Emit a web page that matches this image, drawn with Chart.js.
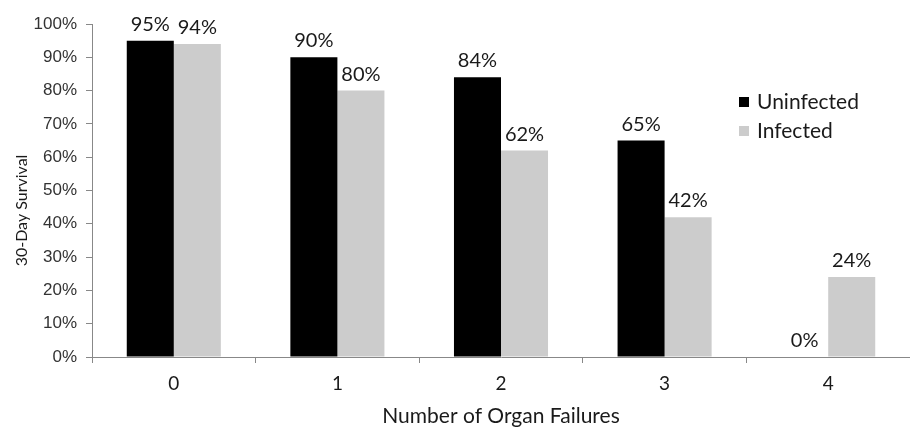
<!DOCTYPE html>
<html>
<head>
<meta charset="utf-8">
<script src="https://cdn.jsdelivr.net/npm/chart.js@4"></script>
<style>
  body { margin: 0; background: #fff; }
  canvas { display: block; }
</style>
</head>
<body>
<canvas id="survivalChart" width="910" height="429"></canvas>
<script>
// chart values
const organFailures = ['0', '1', '2', '3', '4'];
const uninfected = [95, 90, 84, 65, 0];
const infected = [94, 80, 62, 42, 24];
const seriesNames = ['Uninfected', 'Infected'];
const yTicks = [0, 10, 20, 30, 40, 50, 60, 70, 80, 90, 100];
const yTitle = '30-Day Survival';
const xTitle = 'Number of Organ Failures';

const labelFont = 'Lato, "Open Sans", sans-serif';

// draws the percent above each bar
const valueLabels = {
    id: 'valueLabels',
    afterDatasetsDraw(chart) {
        const ctx = chart.ctx;
        ctx.save();
        ctx.font = '20px ' + labelFont;
        ctx.fillStyle = '#1a1a1a';
        ctx.textAlign = 'center';
        ctx.textBaseline = 'alphabetic';
        chart.data.datasets.forEach((ds, i) => {
            const meta = chart.getDatasetMeta(i);
            meta.data.forEach((bar, j) => {
                ctx.fillText(ds.data[j] + '%', bar.x, bar.y - 10);
            });
        });
        ctx.restore();
    }
};

// legend sits inside the plot, right side; y title sits a bit below the middle
const extras = {
    id: 'extras',
    afterDraw(chart) {
        const ctx = chart.ctx;
        const area = chart.chartArea;
        ctx.save();
        ctx.font = '21px ' + labelFont;
        ctx.textBaseline = 'middle';
        ctx.textAlign = 'left';
        chart.data.datasets.forEach((ds, i) => {
            const y = 102 + i * 29;
            ctx.fillStyle = ds.backgroundColor;
            ctx.fillRect(739, y - 5, 10, 10);
            ctx.fillStyle = '#1a1a1a';
            ctx.fillText(ds.label, 757, y);
        });

        ctx.translate(22, area.top + (area.bottom - area.top) * 0.56);
        ctx.rotate(-Math.PI / 2);
        ctx.font = '16px ' + labelFont;
        ctx.textAlign = 'center';
        ctx.fillText(yTitle, 0, 0);
        ctx.restore();
    }
};

new Chart(document.getElementById('survivalChart'), {
    type: 'bar',
    data: {
        labels: organFailures,
        datasets: [
            { label: seriesNames[0], data: uninfected, backgroundColor: '#000000' },
            { label: seriesNames[1], data: infected, backgroundColor: '#cccccc' }
        ]
    },
    options: {
        responsive: false,
        animation: false,
        barPercentage: 1,
        categoryPercentage: 0.575,
        layout: { padding: { top: 24, right: 0, left: 0, bottom: 0 } },
        plugins: {
            legend: { display: false },
            tooltip: { enabled: false }
        },
        scales: {
            x: {
                grid: {
                    display: true,
                    drawOnChartArea: false,
                    drawTicks: true,
                    tickLength: 6,
                    color: '#888'
                },
                border: { color: '#888', width: 1 },
                ticks: {
                    padding: 9,
                    color: '#1a1a1a',
                    font: { family: labelFont, size: 19 }
                },
                title: {
                    display: true,
                    text: xTitle,
                    color: '#1a1a1a',
                    font: { family: labelFont, size: 21 },
                    padding: { top: 0, bottom: 0 }
                },
                afterFit(scale) { scale.height = 72; }
            },
            y: {
                min: 0,
                max: 100,
                afterBuildTicks(scale) {
                    scale.ticks = yTicks.map(v => ({ value: v }));
                },
                grid: {
                    display: true,
                    drawOnChartArea: false,
                    drawTicks: true,
                    tickLength: 6,
                    color: '#888'
                },
                border: { color: '#888', width: 1 },
                ticks: {
                    padding: 9,
                    color: '#333',
                    font: { family: '"Liberation Sans", Arial, sans-serif', size: 17 },
                    callback: v => v + '%'
                },
                afterFit(scale) { scale.width = 92; }
            }
        }
    },
    plugins: [valueLabels, extras]
});
</script>
</body>
</html>
